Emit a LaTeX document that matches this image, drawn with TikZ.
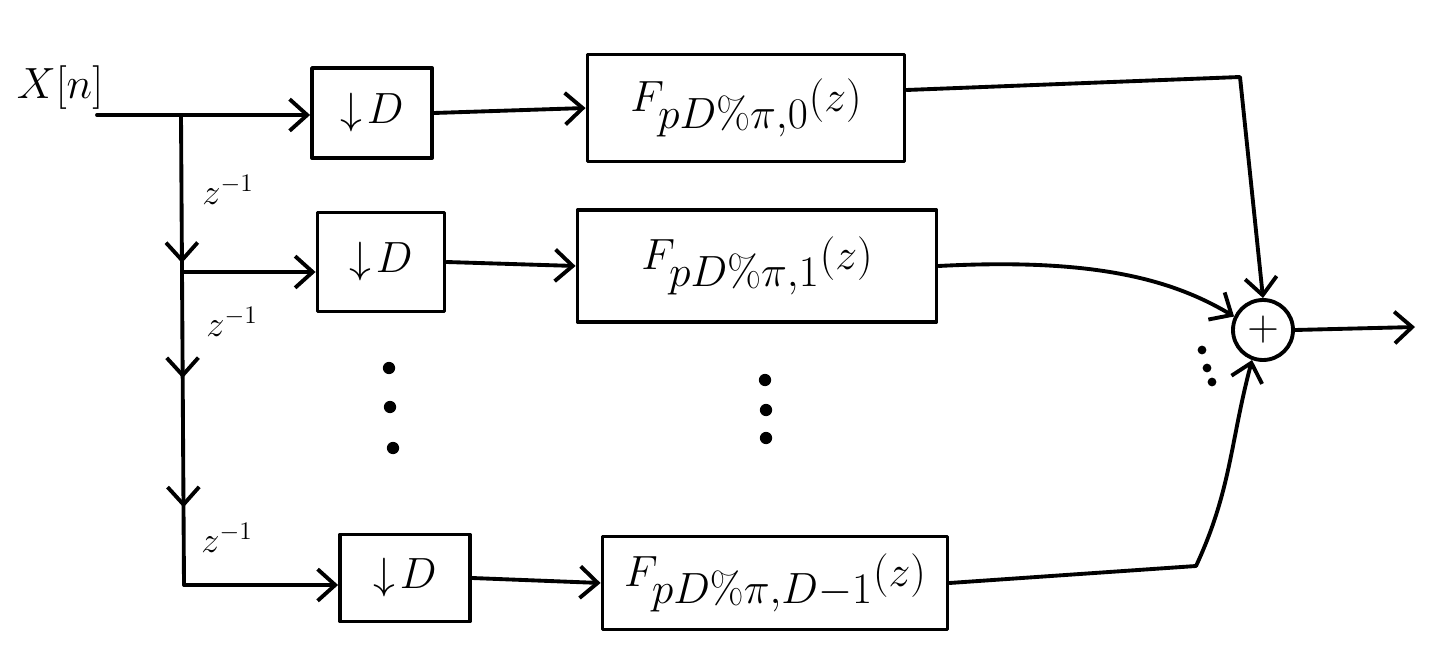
\documentclass[tikz,border=0pt]{standalone}
\usetikzlibrary{arrows.meta,calc,decorations.markings}
\begin{document}
\begin{tikzpicture}[x=0.02cm,y=-0.02cm,
  line width=2.2pt, line cap=round, line join=round,
  flow/.style={-{Straight Barb[length=10pt,width=18pt]}},
  dsbox/.style={draw, rectangle, inner sep=0pt, font=\fontsize{34}{40}\selectfont},
  filt/.style={draw, rectangle, inner sep=0pt, font=\fontsize{34}{40}\selectfont},
  delay/.style={font=\fontsize{20}{24}\selectfont},
  dot/.style={fill, circle, inner sep=0pt, minimum size=7pt}]
\useasboundingbox (0,0) rectangle (1437,672);

% input
\node[font=\fontsize{24}{28}\selectfont] (xlab) at (60,88) {$X[n]$};
\coordinate (in) at (97,115);

% downsamplers
\node[dsbox, minimum width=120*0.02cm, minimum height=90*0.02cm] (d0) at (372,113) {$\downarrow\! D$};
\node[dsbox, minimum width=127*0.02cm, minimum height=99*0.02cm] (d1) at (381,262) {$\downarrow\! D$};
\node[dsbox, minimum width=130*0.02cm, minimum height=87*0.02cm] (d2) at (405,578) {$\downarrow\! D$};

% polyphase filters
\node[filt, minimum width=317*0.02cm, minimum height=107*0.02cm] (f0) at (746,108) {$F_{pD\%\pi,0}{\scriptstyle(z)}$};
\node[filt, minimum width=359*0.02cm, minimum height=112*0.02cm] (f1) at (757,266) {$F_{pD\%\pi,1}{\scriptstyle(z)}$};
\node[filt, minimum width=345*0.02cm, minimum height=93*0.02cm] (f2) at (775,583) {$F_{pD\%\pi,D-1}{\scriptstyle(z)}$};

% adder
\node[draw, circle, minimum size=60*0.02cm, inner sep=0pt, font=\fontsize{40}{44}\selectfont] (s) at (1263,330) {$+$};
\coordinate (out) at (1415,327);

% delay chain taps
\coordinate (t0) at (181,115);
\coordinate (t1) at (183,272);
\coordinate (t2) at (184,585);

\draw (in) -- (t0);
\draw[flow] (t0) -- (d0.west |- t0);
\draw[postaction=decorate, decoration={markings,
    mark=at position 0.315 with {\arrow{Straight Barb[length=10pt,width=18pt]}},
    mark=at position 0.56 with {\arrow{Straight Barb[length=10pt,width=18pt]}},
    mark=at position 0.835 with {\arrow{Straight Barb[length=10pt,width=18pt]}}}]
  (t0) -- (t2);
\draw[flow] (t1) -- (d1.west |- t1);
\draw[flow] (t2) -- (d2.west |- t2);

\node[delay] (z1) at (228,190) {$z^{-1}$};
\node[delay] (z2) at (232,322) {$z^{-1}$};
\node[delay] (z3) at (227,538) {$z^{-1}$};

% downsampler to filter
\draw[flow] (d0.east) -- (f0.west);
\draw[flow] (d1.east) -- (f1.west);
\draw[flow] (d2.east) -- (f2.west);

% filters to adder
\coordinate (c0) at (1240,77);
\coordinate (c2) at (1196,566);
\draw[flow] ($(f0.east)+(0,-18)$) -- (c0) -- (s.north);
\draw[flow] (f1.east) .. controls (1090,258) and (1170,278) .. (s.155);
\draw[flow] (f2.east) -- (c2) to[out=65,in=255] (s.250);
\draw[flow] (s.east) -- (out);

% omitted branches
\node[dot] (p1) at (389,368) {};
\node[dot] (p2) at (390,407) {};
\node[dot] (p3) at (393,448) {};
\node[dot] (q1) at (765,380) {};
\node[dot] (q2) at (766,410) {};
\node[dot] (q3) at (766,438) {};
\node[dot, minimum size=5pt] (r1) at (1202,350) {};
\node[dot, minimum size=5pt] (r2) at (1207,368) {};
\node[dot, minimum size=5pt] (r3) at (1212,382) {};
\end{tikzpicture}
\end{document}
